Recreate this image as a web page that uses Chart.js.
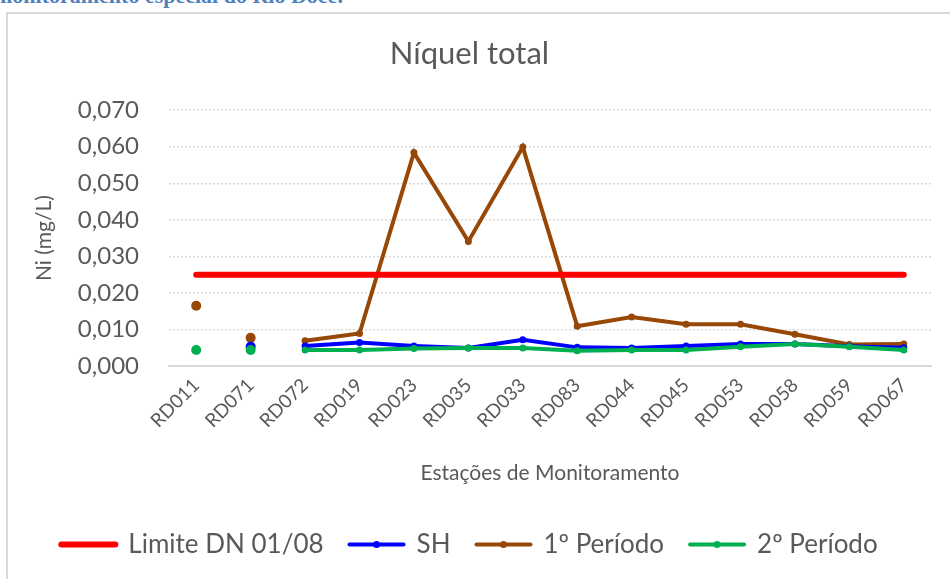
<!DOCTYPE html>
<html lang="pt">
<head>
<meta charset="utf-8">
<title>Níquel total</title>
<script src="https://cdn.jsdelivr.net/npm/chart.js@4.4.1/dist/chart.umd.min.js"></script>
<style>
    html, body { margin: 0; padding: 0; width: 950px; height: 579px; overflow: hidden; background: #fff; }
    .doc-heading {
        position: absolute; left: -6px; top: -15px; margin: 0;
        font: bold 22px/22px 'Liberation Serif', serif; color: #4F81BD; white-space: nowrap;
    }
    .frame {
        position: absolute; left: 6px; top: 12px; width: 990px; height: 620px;
        border: 2px solid #d9d9d9; box-sizing: border-box;
    }
    #chartBox { position: absolute; left: 8px; top: 14px; width: 950px; height: 565px; }
</style>
</head>
<body>
<p class="doc-heading">monitoramento especial do Rio Doce.</p>
<div class="frame"></div>
<div id="chartBox"><canvas id="niChart" width="950" height="565"></canvas></div>

<script>
// ─── Data ───
const categories = ['RD011', 'RD071', 'RD072', 'RD019', 'RD023', 'RD035', 'RD033',
                    'RD083', 'RD044', 'RD045', 'RD053', 'RD058', 'RD059', 'RD067'];
const limite   = [0.025, 0.025, 0.025, 0.025, 0.025, 0.025, 0.025, 0.025, 0.025, 0.025, 0.025, 0.025, 0.025, 0.025];
const sh       = [null, 0.0053, 0.0055, 0.0064, 0.0055, 0.0049, 0.0072, 0.0051, 0.0049, 0.0055, 0.0060, 0.0060, 0.0054, 0.0050];
const periodo1 = [0.0165, 0.0077, 0.0069, 0.0089, 0.0584, 0.0341, 0.0599, 0.0109, 0.0134, 0.0114, 0.0114, 0.0087, 0.0059, 0.0060];
const periodo2 = [0.0044, 0.0044, 0.0044, 0.0044, 0.0048, 0.0049, 0.0049, 0.0042, 0.0044, 0.0044, 0.0053, 0.0060, 0.0053, 0.0044];
const yMin = 0, yMax = 0.07, yStep = 0.01;

// ─── Style ───
const textColor = '#595959';
const gridColor = '#d9d9d9';
Chart.defaults.font.family = 'Lato';
Chart.defaults.color = textColor;

// first two stations are loose points in the original, not joined by the line
const hideFirstSegments = ctx => ctx.p0DataIndex < 2 ? 'rgba(0,0,0,0)' : undefined;
const markerSize = ctx => ctx.dataIndex < 2 ? 5 : 3.5;

function lineSeries(label, data, color, order) {
    return {
        label, data, order,
        borderColor: color,
        backgroundColor: color,
        borderWidth: 4,
        pointRadius: markerSize,
        pointHoverRadius: markerSize,
        pointBorderWidth: 0,
        tension: 0,
        segment: { borderColor: hideFirstSegments }
    };
}

// small dot in the middle of the legend lines
const legendMarkers = {
    id: 'legendMarkers',
    afterDraw(chart) {
        const lg = chart.legend;
        const ctx = chart.ctx;
        const w = lg.options.labels.pointStyleWidth;
        lg.legendItems.forEach((item, i) => {
            if (item.datasetIndex === 0) return;
            const box = lg.legendHitBoxes[i];
            ctx.save();
            ctx.fillStyle = item.strokeStyle;
            ctx.beginPath();
            ctx.arc(box.left + w / 2, box.top + box.height / 2, 3.5, 0, Math.PI * 2);
            ctx.fill();
            ctx.restore();
        });
    }
};

new Chart(document.getElementById('niChart'), {
    type: 'line',
    data: {
        labels: categories,
        datasets: [
            {
                label: 'Limite DN 01/08',
                data: limite,
                order: 0,
                borderColor: '#FF0000',
                backgroundColor: '#FF0000',
                borderWidth: 6,
                borderCapStyle: 'round',
                pointRadius: 0,
                pointHoverRadius: 0
            },
            lineSeries('SH', sh, '#0000FF', 2),
            lineSeries('1º Período', periodo1, '#974706', 3),
            lineSeries('2º Período', periodo2, '#00B050', 1)
        ]
    },
    options: {
        responsive: false,
        animation: false,
        layout: { padding: { top: 21, left: 0, right: 27, bottom: 11.5 } },
        scales: {
            x: {
                offset: true,
                grid: { drawOnChartArea: false, drawTicks: false },
                border: { display: true, color: gridColor, width: 2 },
                ticks: {
                    autoSkip: false, minRotation: 45, maxRotation: 45,
                    padding: 8, font: { size: 19 }
                },
                title: {
                    display: true, text: 'Estações de Monitoramento',
                    font: { size: 21 }, padding: { top: 0, bottom: 20 }
                },
                afterFit: s => { s.height = 139.5; }
            },
            y: {
                min: yMin, max: yMax,
                ticks: {
                    stepSize: yStep, padding: 30, font: { size: 24 },
                    callback: v => v.toFixed(3).replace('.', ',')
                },
                grid: { color: gridColor, lineWidth: 1.5, drawTicks: false },
                border: { display: false, dash: [2, 2] },
                title: {
                    display: true, text: 'Ni (mg/L)',
                    font: { size: 21 }, padding: { top: 24, bottom: 0 }
                },
                afterFit: s => { s.width = 161; }
            }
        },
        plugins: {
            title: {
                display: true, text: 'Níquel total',
                font: { size: 31, weight: 'normal' }, color: textColor,
                padding: { top: 0, bottom: 38 }
            },
            legend: {
                position: 'bottom',
                labels: {
                    usePointStyle: true,
                    pointStyleWidth: 54,
                    padding: 26,
                    font: { size: 26 },
                    color: textColor,
                    sort: (a, b) => a.datasetIndex - b.datasetIndex,
                    // legend style is taken from point 0, so put the line look back
                    generateLabels: chart => Chart.defaults.plugins.legend.labels
                        .generateLabels(chart)
                        .map(item => {
                            const ds = chart.data.datasets[item.datasetIndex];
                            return {
                                ...item,
                                pointStyle: 'line',
                                strokeStyle: ds.borderColor,
                                fillStyle: ds.borderColor,
                                lineWidth: item.datasetIndex === 0 ? 6 : 4,
                                lineCap: 'round'
                            };
                        })
                }
            },
            tooltip: { enabled: false }
        }
    },
    plugins: [legendMarkers]
});
</script>
</body>
</html>
